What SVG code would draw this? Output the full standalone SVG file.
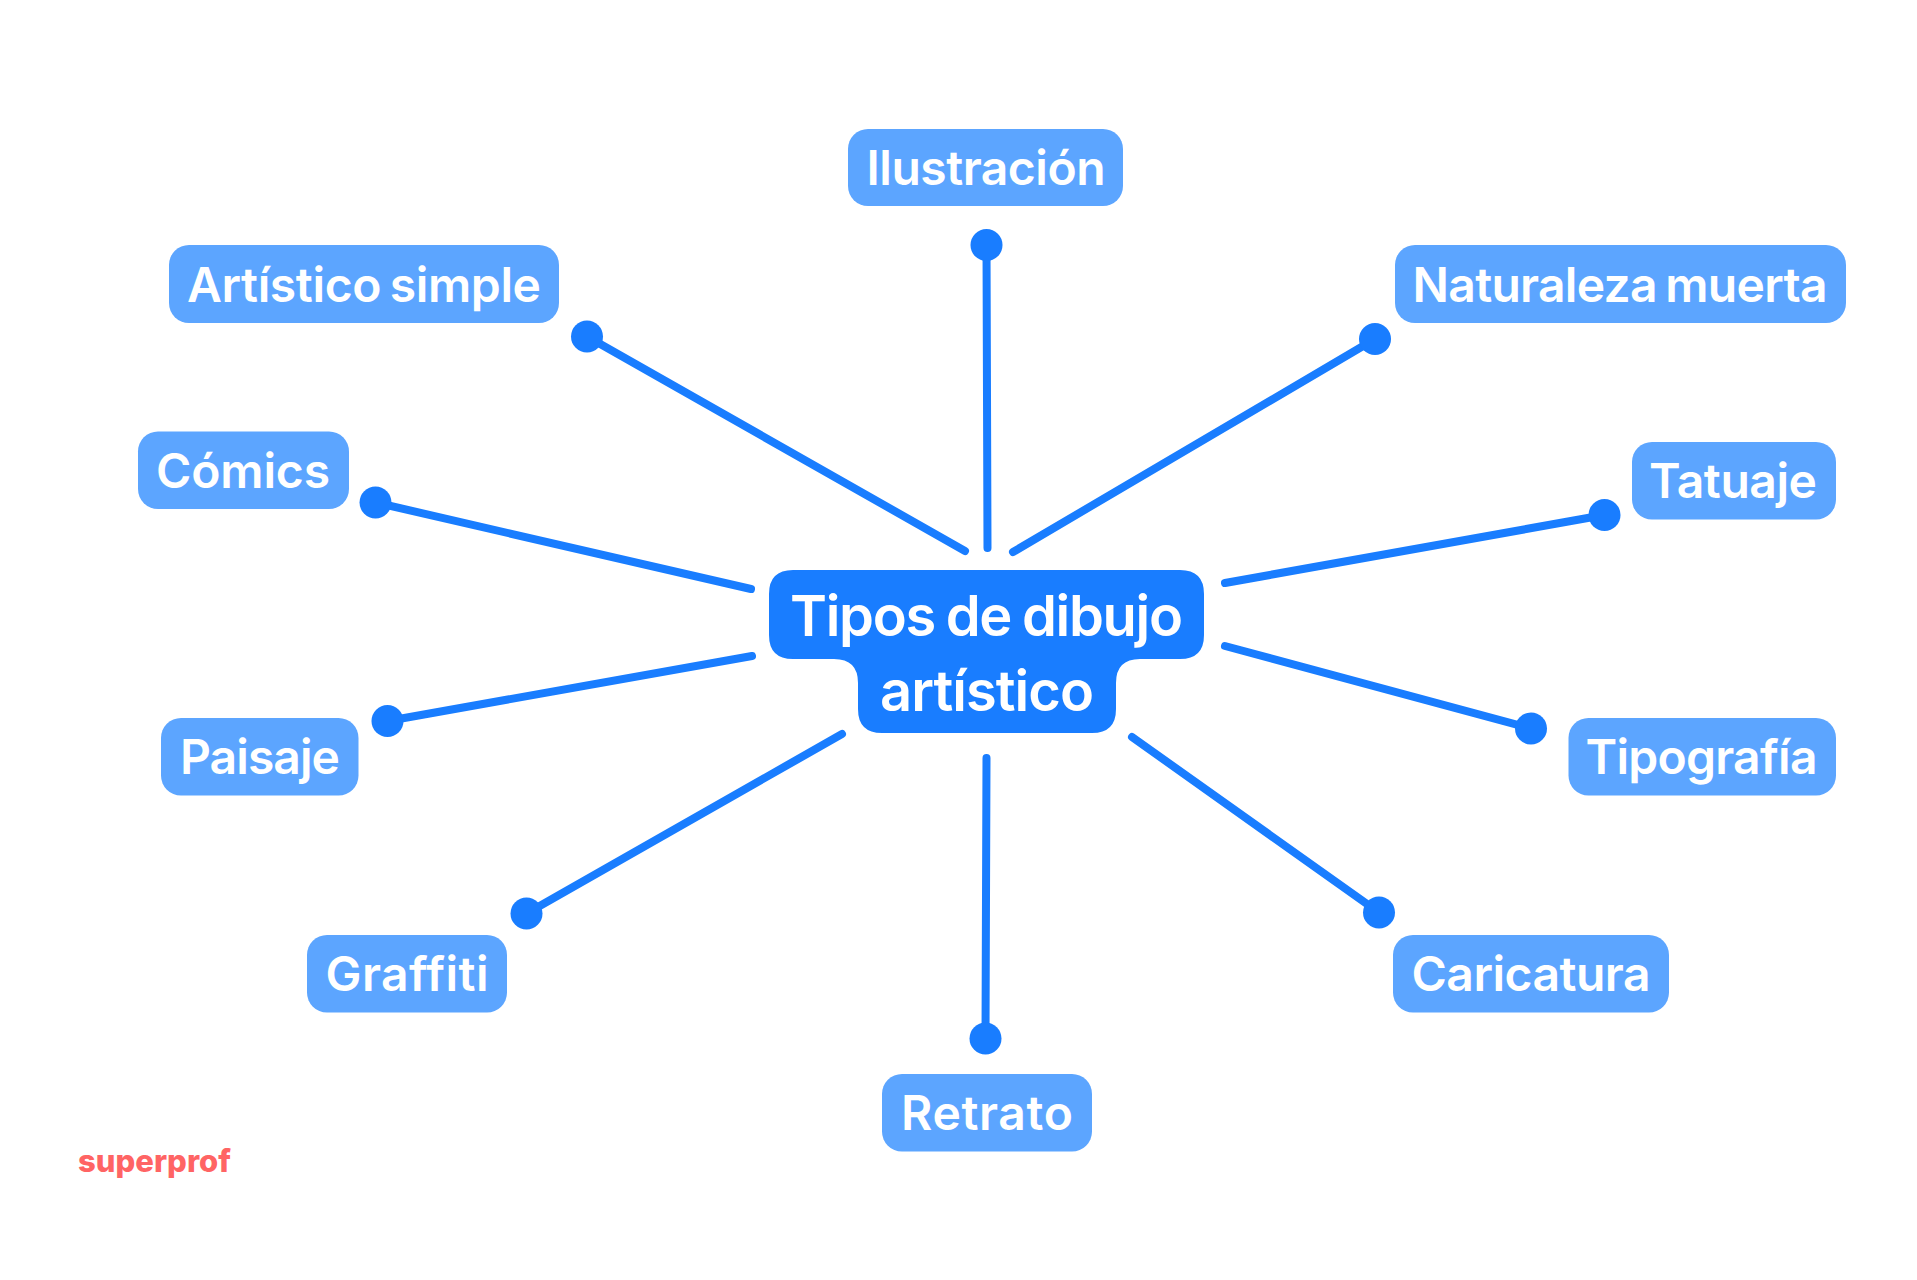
<svg xmlns="http://www.w3.org/2000/svg" width="1917" height="1280" viewBox="0 0 1917 1280">
<style>
.bg{fill:#fff}
.box{fill:#5ca5ff}
.main{fill:#197dff}
.lbl{font-family:"Inter","Liberation Sans",sans-serif;font-weight:600;font-size:48px;fill:#fff;word-spacing:-3px}
.ttl{font-family:"Inter","Liberation Sans",sans-serif;font-weight:600;font-size:56px;fill:#fff;word-spacing:-2px}
.brand{font-family:"Inter","Liberation Sans",sans-serif;font-weight:800;font-size:31px;fill:#ff6464}
.ln{stroke:#197dff;stroke-width:8;stroke-linecap:round;fill:none}
.dot{fill:#197dff}
</style>
<rect class="bg" width="1917" height="1280"/>
<g id="connectors">
<line class="ln" x1="986.5" y1="245" x2="987.5" y2="548"/><circle class="dot" cx="986.5" cy="245" r="16"/>
<line class="ln" x1="587" y1="336.500" x2="965" y2="551"/><circle class="dot" cx="587" cy="336.500" r="16"/>
<line class="ln" x1="1375" y1="339" x2="1013" y2="552"/><circle class="dot" cx="1375" cy="339" r="16"/>
<line class="ln" x1="1604.500" y1="515" x2="1225" y2="583"/><circle class="dot" cx="1604.500" cy="515" r="16"/>
<line class="ln" x1="1531" y1="728.500" x2="1225" y2="646"/><circle class="dot" cx="1531" cy="728.500" r="16"/>
<line class="ln" x1="1379" y1="912.500" x2="1132" y2="737"/><circle class="dot" cx="1379" cy="912.500" r="16"/>
<line class="ln" x1="985.5" y1="1038.500" x2="986.5" y2="758"/><circle class="dot" cx="985.5" cy="1038.500" r="16"/>
<line class="ln" x1="526.500" y1="913.500" x2="842" y2="734"/><circle class="dot" cx="526.500" cy="913.500" r="16"/>
<line class="ln" x1="387.5" y1="721" x2="752" y2="656"/><circle class="dot" cx="387.5" cy="721" r="16"/>
<line class="ln" x1="375.5" y1="502.5" x2="751" y2="589"/><circle class="dot" cx="375.5" cy="502.5" r="16"/>
</g>
<g id="center">
<path class="main" d="M793 570H1180Q1204 570 1204 594V635Q1204 659 1180 659H1140Q1116 659 1116 683V709Q1116 733 1092 733H882Q858 733 858 709V683Q858 659 834 659H793Q769 659 769 635V594Q769 570 793 570Z"/>
<text class="ttl" x="986.500" y="636" text-anchor="middle" textLength="393" lengthAdjust="spacing">Tipos de dibujo</text>
<text class="ttl" x="987" y="711" text-anchor="middle" textLength="214" lengthAdjust="spacing">artístico</text>
</g>
<g id="ilustracion"><rect class="box" x="848" y="129" width="275" height="77" rx="20"/><text class="lbl" x="986" y="185" text-anchor="middle" textLength="239" lengthAdjust="spacing">Ilustración</text></g>
<g id="artistico-simple"><rect class="box" x="169" y="245" width="390" height="78" rx="20"/><text class="lbl" x="364" y="302" text-anchor="middle" textLength="354" lengthAdjust="spacing">Artístico simple</text></g>
<g id="naturaleza-muerta"><rect class="box" x="1395" y="245" width="451" height="78" rx="20"/><text class="lbl" x="1620" y="302" text-anchor="middle" textLength="415" lengthAdjust="spacing">Naturaleza muerta</text></g>
<g id="comics"><rect class="box" x="138" y="431.500" width="211" height="77.500" rx="20"/><text class="lbl" x="243" y="488" text-anchor="middle" textLength="174" lengthAdjust="spacing">Cómics</text></g>
<g id="tatuaje"><rect class="box" x="1632" y="442" width="204" height="77.500" rx="20"/><text class="lbl" x="1733" y="498" text-anchor="middle" textLength="168" lengthAdjust="spacing">Tatuaje</text></g>
<g id="paisaje"><rect class="box" x="161" y="718" width="197.500" height="77.500" rx="20"/><text class="lbl" x="260" y="774" text-anchor="middle" textLength="160" lengthAdjust="spacing">Paisaje</text></g>
<g id="tipografia"><rect class="box" x="1568.500" y="718" width="267.500" height="77.500" rx="20"/><text class="lbl" x="1701.500" y="774" text-anchor="middle" textLength="232" lengthAdjust="spacing">Tipografía</text></g>
<g id="graffiti"><rect class="box" x="307" y="935" width="200" height="77.500" rx="20"/><text class="lbl" x="407" y="991" text-anchor="middle" textLength="163" lengthAdjust="spacing">Graffiti</text></g>
<g id="caricatura"><rect class="box" x="1393" y="935" width="276" height="77.500" rx="20"/><text class="lbl" x="1531" y="991" text-anchor="middle" textLength="239" lengthAdjust="spacing">Caricatura</text></g>
<g id="retrato"><rect class="box" x="882" y="1074" width="210" height="77.500" rx="20"/><text class="lbl" x="987" y="1130" text-anchor="middle" textLength="172" lengthAdjust="spacing">Retrato</text></g>
<text class="brand" x="154.500" y="1172" text-anchor="middle" textLength="153" lengthAdjust="spacing">superprof</text>
</svg>
